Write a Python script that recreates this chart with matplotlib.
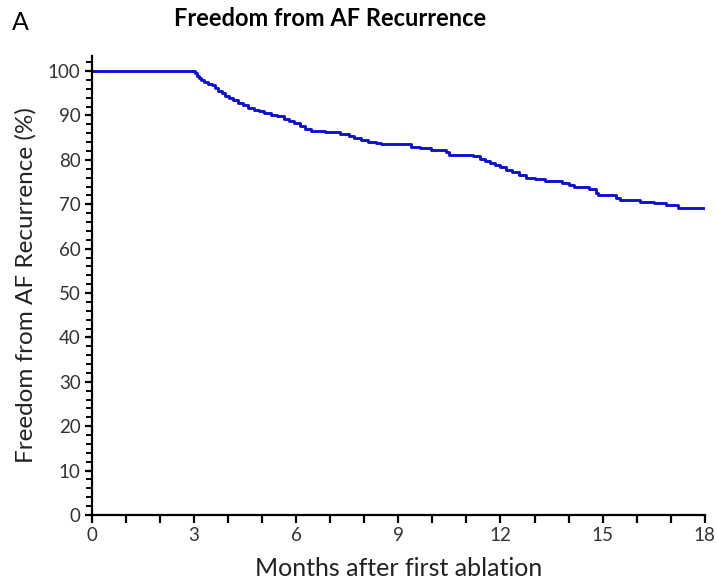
import numpy as np
import matplotlib
matplotlib.use('Agg')
from matplotlib import pyplot
from matplotlib.ticker import MultipleLocator

pyplot.rcParams.update({'font.family': ['Lato', 'DejaVu Sans']})

# Kaplan-Meier estimate (months, % free of AF)
months   = [0, 3.02, 3.08, 3.15, 3.22, 3.30, 3.40, 3.52, 3.62, 3.72, 3.82, 3.92,
            4.02, 4.15, 4.30, 4.45, 4.60, 4.75, 4.90, 5.05, 5.25, 5.45, 5.65, 5.80,
            5.95, 6.10, 6.25, 6.45, 6.85, 7.30, 7.55, 7.70, 7.90, 8.10, 8.35, 8.50,
            9.38, 9.65, 9.95, 10.40, 10.50, 11.20, 11.40, 11.55, 11.70, 11.85, 12.00,
            12.15, 12.35, 12.55, 12.75, 13.00, 13.30, 13.80, 14.00, 14.15, 14.60,
            14.80, 14.85, 15.40, 15.50, 16.10, 16.50, 16.85, 17.20, 17.95]
freedom  = [100, 99.5, 99.0, 98.5, 98.0, 97.6, 97.2, 96.8, 96.3, 95.6, 95.0, 94.4,
            93.9, 93.4, 92.9, 92.4, 91.8, 91.3, 90.9, 90.5, 90.2, 89.9, 89.3, 88.8,
            88.3, 87.6, 86.9, 86.5, 86.2, 85.9, 85.4, 84.9, 84.5, 84.1, 83.7, 83.5,
            83.0, 82.6, 82.3, 81.7, 81.2, 80.8, 80.3, 79.8, 79.3, 78.8, 78.3,
            77.8, 77.2, 76.6, 76.0, 75.6, 75.3, 74.9, 74.4, 73.9, 73.4,
            72.6, 72.0, 71.5, 70.9, 70.6, 70.2, 69.8, 69.1, 69.1]

xticks = [0, 3, 6, 9, 12, 15, 18]
yticks = list(range(0, 101, 10))

fig = pyplot.figure(figsize=(7.17, 5.81), dpi=100)
ax  = fig.add_axes([0.128, 0.1136, 0.855, 0.79])
ax.step(months, freedom, where='post', color='#1010d0', lw=2.1)

ax.set_xlim(0, 18)
ax.set_ylim(0, 103.4)
ax.set_xticks(xticks)
ax.xaxis.set_minor_locator(MultipleLocator(1))
ax.set_yticks(yticks)
ax.yaxis.set_minor_locator(MultipleLocator(2))
for s in ('top', 'right'):
    ax.spines[s].set_visible(False)
for s in ('left', 'bottom'):
    ax.spines[s].set_linewidth(1.6)
ax.tick_params(axis='x', which='both', length=6, width=1.6, direction='out',
               labelsize=13.5, pad=3, labelcolor='#333333')
ax.tick_params(axis='y', which='major', length=5, width=1.6, direction='out',
               labelsize=13.5, pad=3, labelcolor='#333333')
ax.tick_params(axis='y', which='minor', length=4, width=1.4, direction='out')

ax.set_xlabel('Months after first ablation', fontsize=18, labelpad=9, color='#222222')
ax.set_ylabel('Freedom from AF Recurrence (%)', fontsize=17.5, labelpad=8, color='#222222')

fig.text(0.46, 0.968, 'Freedom from AF Recurrence', ha='center', va='center',
         fontsize=17, fontweight='bold')
fig.text(0.016, 0.962, 'A', ha='left', va='center', fontsize=18)

fig.savefig('out.png', dpi=100)
